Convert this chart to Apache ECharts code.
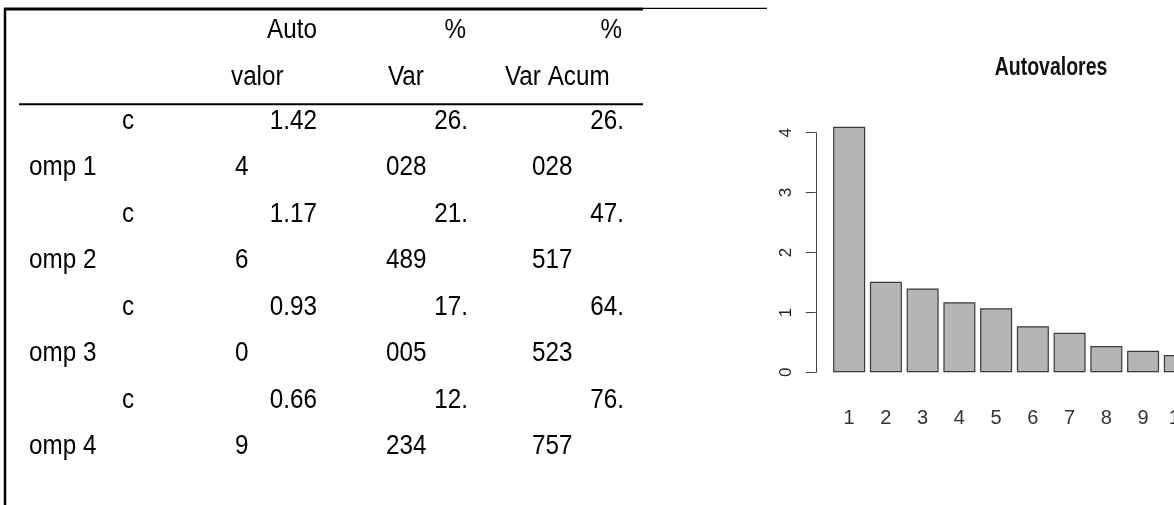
<!DOCTYPE html>
<html><head><meta charset="utf-8">
<script src="https://cdn.jsdelivr.net/npm/echarts@6/dist/echarts.min.js"></script>
<style>html,body{margin:0;padding:0;background:#fff;overflow:hidden;width:1174px;height:505px}#c{width:1210px;height:505px}</style>
</head><body><div id="c"></div><script>
// ---- table data ----
const headerLine1 = ['Auto', '%', '%'];
const headerLine2 = ['valor', 'Var', 'Var Acum'];
const components = ['comp 1', 'comp 2', 'comp 3', 'comp 4'];
const autovalor = ['1.424', '1.176', '0.930', '0.669'];
const pctVar = ['26.028', '21.489', '17.005', '12.234'];
const pctAcum = ['26.028', '47.517', '64.523', '76.757'];
// ---- chart data ----
const chartTitle = 'Autovalores';
const barCategories = ['1', '2', '3', '4', '5', '6', '7', '8', '9', '10'];
const eigenvalues = [4.10, 1.51, 1.40, 1.17, 1.07, 0.77, 0.66, 0.44, 0.36, 0.29];
const yTickMax = 4;

const SANS = '"Liberation Sans", Arial, sans-serif';
const tableFont = 25;
const g = [];
function txt(text, x, baseline, align) {
  g.push({type: 'text', silent: true, x: x, y: baseline - 10, scaleX: 0.97, scaleY: 1.1,
    style: {text: text, x: 0, y: 0, fill: '#000', fontSize: tableFont, fontFamily: SANS,
      align: align, verticalAlign: 'middle'}});
}
function line(x1, y1, x2, y2, w) {
  g.push({type: 'line', silent: true, shape: {x1: x1, y1: y1, x2: x2, y2: y2}, style: {stroke: '#000', lineWidth: w}});
}
// table rules
line(4, 9, 643, 9, 3);
line(643, 8.3, 767, 8.3, 1.2);
line(19, 104.3, 643, 104.3, 2);
line(5, 8, 5, 505, 2.5);
// header
const hdrRight = [317, 466, 622];
const hdrLeft2 = [231, 388, 505];
headerLine1.forEach((t, i) => txt(t, hdrRight[i], 40.7, 'right'));
headerLine2.forEach((t, i) => txt(t, hdrLeft2[i], 87, 'left'));
// body rows (cell text wraps in two lines)
const rowStart = 131, lineStep = 46.5;
components.forEach((c, r) => {
  const b1 = rowStart + r * 2 * lineStep, b2 = b1 + lineStep;
  txt(c.slice(0, 1), 122, b1, 'left');
  txt(c.slice(1), 29, b2, 'left');
  txt(autovalor[r].slice(0, 4), 317, b1, 'right');
  txt(autovalor[r].slice(4), 235, b2, 'left');
  txt(pctVar[r].slice(0, 3), 468, b1, 'right');
  txt(pctVar[r].slice(3), 386, b2, 'left');
  txt(pctAcum[r].slice(0, 3), 624, b1, 'right');
  txt(pctAcum[r].slice(3), 532, b2, 'left');
});
// chart title (condensed look via vertical stretch)
g.push({type: 'text', silent: true, x: 1051, y: 68.5, scaleX: 1, scaleY: 1.3,
  style: {text: chartTitle, x: 0, y: 0, fill: '#111', fontSize: 19.5, fontWeight: 'bold',
    fontFamily: SANS, align: 'center', verticalAlign: 'middle'}});

const chart = echarts.init(document.getElementById('c'), null, {renderer: 'canvas'});
chart.setOption({
  animation: false,
  backgroundColor: '#fff',
  grid: {left: 830.8, top: 132.7, height: 239.6, width: 367.4, containLabel: false},
  xAxis: {type: 'category', data: barCategories,
    axisLine: {show: false}, axisTick: {show: false},
    axisLabel: {margin: 36, fontFamily: SANS, fontSize: 20, color: '#333'}},
  yAxis: {type: 'value', min: 0, max: yTickMax, interval: 1, offset: 15, splitLine: {show: false},
    axisLine: {show: true, lineStyle: {color: '#444', width: 1}},
    axisTick: {show: true, length: 10, lineStyle: {color: '#444', width: 1}},
    axisLabel: {rotate: 90, margin: 21, fontFamily: SANS, fontSize: 17, color: '#222'}},
  series: [{type: 'bar', data: eigenvalues, clip: false, barWidth: 32,
    itemStyle: {color: '#b5b5b5', borderColor: '#3a3a3a', borderWidth: 1.2}}],
  graphic: g
});
</script></body></html>
